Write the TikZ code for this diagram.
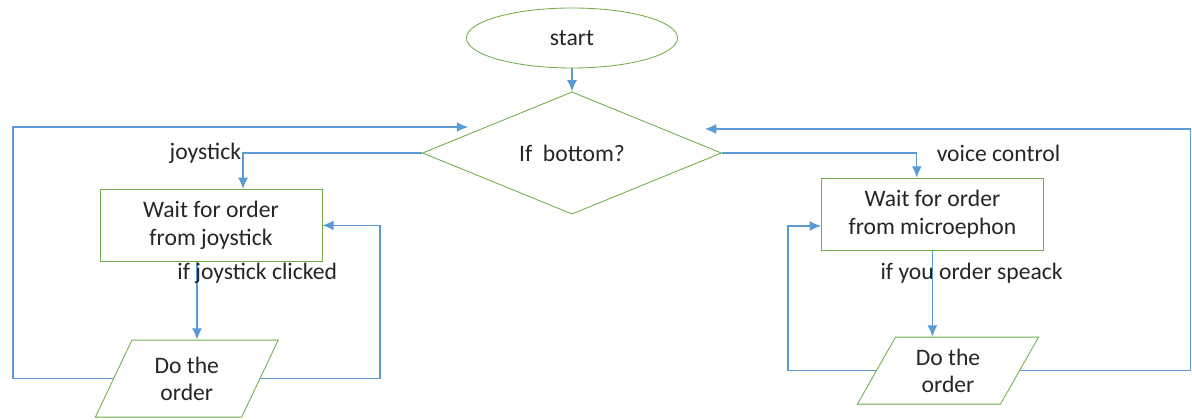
\documentclass[tikz,border=0pt]{standalone}
\usepackage{fontspec}
\setmainfont{Carlito}
\usetikzlibrary{arrows.meta,shapes.geometric}
\definecolor{flowblue}{RGB}{91,155,213}
\definecolor{boxgreen}{RGB}{112,173,71}
\newcommand{\flowfont}{\fontsize{16.8}{19.5}\selectfont}
\tikzstyle{Terminal}=[minimum width=5.275cm, minimum height=1.5cm, fill=white, line width=0.6pt, draw=boxgreen, shape=ellipse, text=black!85, font=\flowfont]
\tikzstyle{Decision}=[minimum width=7.475cm, minimum height=2.65cm, fill=white, line width=0.6pt, draw=boxgreen, shape=diamond, text=black!85, font=\flowfont, inner sep=0pt]
\tikzstyle{Process}=[minimum width=5.55cm, minimum height=1.8cm, fill=white, line width=0.6pt, draw=boxgreen, shape=rectangle, text=black!85, font=\flowfont, align=center]
\tikzstyle{Io}=[fill=white, line width=0.6pt, draw=boxgreen, shape=trapezium, trapezium stretches=true, text=black!85, font=\flowfont, align=center, inner sep=0pt]
\tikzstyle{EdgeLabel}=[text=black!85, font=\flowfont, inner sep=1pt]
\tikzstyle{Flow}=[-{Latex[length=8pt,width=7pt]}, line width=0.8pt, draw=flowblue]
\pgfdeclarelayer{edgelayer}
\pgfdeclarelayer{nodelayer}
\pgfsetlayers{edgelayer, nodelayer, main}

\begin{document}
\begin{tikzpicture}
	\useasboundingbox (0,0) rectangle (29.8,10.475);
	\begin{pgfonlayer}{nodelayer}
		\node [style=Terminal] (start) at (14.3, 9.525) {start};
		\node [style=Decision] (bottom) at (14.3, 6.65) {If\ \ bottom?};
		% joystick side
		\node [style=Process] (wait_joy) at (5.275, 4.84) {Wait for order\\from joystick};
		\node [style=Io, minimum width=4.575cm, minimum height=1.925cm, trapezium left angle=64, trapezium right angle=116] (do_joy) at (4.67, 1.01) {Do the\\order};
		% voice side
		\node [style=Process] (wait_mic) at (23.31, 5.125) {Wait for order\\from microephon};
		\node [style=Io, minimum width=4.55cm, minimum height=1.675cm, trapezium left angle=62, trapezium right angle=118] (do_mic) at (23.7, 1.21) {Do the\\order};
		% labels
		\node [style=EdgeLabel] (joy_click) at (6.43, 3.65) {if joystick clicked};
		\node [style=EdgeLabel] (mic_speak) at (24.29, 3.65) {if you order speack};
	\end{pgfonlayer}
	\begin{pgfonlayer}{edgelayer}
		\coordinate (left_rail) at (0.325, 0);
		\coordinate (left_in) at (11.7, 7.3);
		\coordinate (joy_rail) at (9.5, 0);
		\coordinate (mic_rail) at (19.7, 0);
		\coordinate (right_rail) at (29.77, 0);
		\coordinate (right_in) at (17.625, 7.25);

		\draw [style=Flow] (start) to (bottom);
		\draw [style=Flow] (bottom.west) -| node [style=EdgeLabel, pos=0.5, left] {joystick} ([xshift=0.8cm]wait_joy.north);
		\draw [style=Flow] (bottom.east) -| node [style=EdgeLabel, pos=0.5, right=0.45cm] {voice control} ([xshift=-0.39cm]wait_mic.north);
		\draw [style=Flow] ([xshift=-0.35cm]wait_joy.south) to ([xshift=-0.35cm]wait_joy.south |- do_joy.north);
		\draw [style=Flow] (wait_mic.south) to (wait_mic.south |- do_mic.north);

		% loops back
		\draw [style=Flow] (do_joy.east) -- (do_joy.east -| joy_rail) |- (wait_joy.east);
		\draw [style=Flow] (do_joy.west) -- (do_joy.west -| left_rail) |- (left_in);
		\draw [style=Flow] (do_mic.west) -- (do_mic.west -| mic_rail) |- ([yshift=-0.3cm]wait_mic.west);
		\draw [style=Flow] (do_mic.east) -- (do_mic.east -| right_rail) |- (right_in);
	\end{pgfonlayer}
\end{tikzpicture}
\end{document}
